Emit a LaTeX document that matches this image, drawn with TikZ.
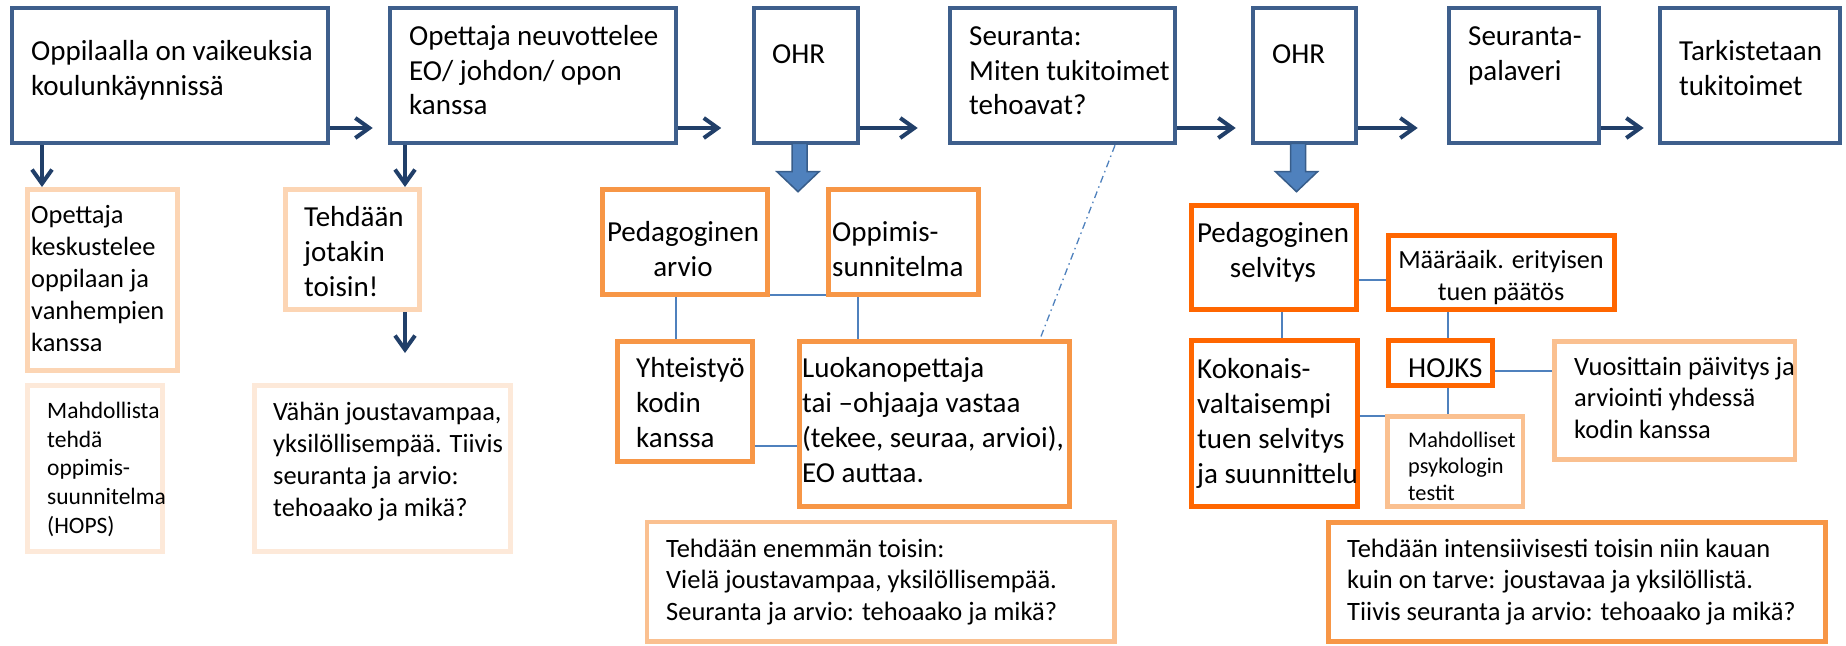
\documentclass[tikz,border=0pt]{standalone}
\usepackage{fontspec}
\setmainfont{Carlito}
\usetikzlibrary{arrows.meta}
\definecolor{topb}{HTML}{3E5F8C}
\definecolor{navy}{HTML}{213F69}
\definecolor{acc}{HTML}{4F81BD}
\definecolor{accd}{HTML}{385D8A}
\definecolor{orA}{HTML}{F79646}
\definecolor{orB}{HTML}{FF6600}
\definecolor{orC}{HTML}{FAC090}
\definecolor{peach}{HTML}{FCD5B4}
\definecolor{peachL}{HTML}{FDE9D9}
\newcommand\Lines[1]{\vtop{\halign{##\hfil\cr#1\crcr}}}
\newcommand\CLines[1]{\vtop{\halign{\hfil##\hfil\cr#1\crcr}}}
\newcommand\BoxAt[6]{\node[#1,minimum width={(#5)-(#3)},minimum height={(#6)-(#4)}] (#2) at ({((#3)+(#5))/2},{((#4)+(#6))/2}) {};}
\newcommand\fA{\fontsize{29}{35}\selectfont}
\newcommand\fB{\fontsize{26.4}{32.1}\selectfont}
\newcommand\fC{\fontsize{23.5}{28.75}\selectfont}
\newcommand\fD{\fontsize{22.3}{26.5}\selectfont}
\newcommand\fE{\fontsize{26.5}{31.5}\selectfont}
\tikzset{
  bx/.style={rectangle,inner sep=0pt,fill=white},
  topbox/.style={bx,draw=topb,line width=4.6pt},
  obox/.style={bx,draw=orA,line width=5pt},
  rbox/.style={bx,draw=orB,line width=5pt},
  lbox/.style={bx,draw=orC,line width=4.8pt},
  pbox/.style={bx,draw=peach,line width=5pt},
  ppbox/.style={bx,draw=peachL,line width=5pt},
  txt/.style={inner sep=0pt,anchor=base west},
  ctxt/.style={inner sep=0pt,anchor=base},
  arr/.style={draw=navy,line width=4pt,-{Straight Barb[length=14pt,width=20pt]}},
  conn/.style={draw=acc,line width=1.6pt},
  fat/.style={fill=acc,draw=accd,line width=1.5pt,line join=miter}
}
\begin{document}
\begin{tikzpicture}[x=1pt,y=-1pt]
\useasboundingbox (0,0) rectangle (1846,645);
% top row
\BoxAt{topbox}{b1}{12}{8}{328}{143}
\BoxAt{topbox}{b2}{390}{8}{676}{143}
\BoxAt{topbox}{o1}{754}{8}{858}{143}
\BoxAt{topbox}{seur}{950}{8}{1175}{143}
\BoxAt{topbox}{o2}{1253}{8}{1356}{143}
\BoxAt{topbox}{sp}{1449}{8}{1599}{143}
\BoxAt{topbox}{tark}{1660}{8}{1840}{143}
% lower left
\BoxAt{pbox}{ok}{27.5}{189.5}{177.5}{370.5}
\BoxAt{ppbox}{m1}{27}{385.5}{162.5}{551.5}
\BoxAt{pbox}{tj}{285}{189.5}{419.5}{309.5}
\BoxAt{ppbox}{vj}{254}{385.5}{510}{551.5}
% middle group
\BoxAt{obox}{pa}{602.5}{189.5}{767.5}{294.5}
\BoxAt{obox}{os}{828.5}{189.5}{978.5}{294.5}
\BoxAt{obox}{yk}{617.5}{341.5}{752}{461.5}
\BoxAt{obox}{lo}{799}{341.5}{1069.5}{506.5}
\BoxAt{lbox}{te}{647}{522}{1114.5}{641.5}
% right group
\BoxAt{rbox}{ps}{1191.5}{205}{1356.5}{309.5}
\BoxAt{rbox}{ma}{1388}{235}{1614}{309.5}
\BoxAt{rbox}{ko}{1191.5}{340.5}{1357}{506.5}
\BoxAt{rbox}{ho}{1388}{340.5}{1492.5}{385}
\BoxAt{lbox}{mp}{1387.5}{416.5}{1523}{506.5}
\BoxAt{lbox}{vu}{1554.5}{341.5}{1795}{459.5}
\BoxAt{obox}{ti}{1328}{522.5}{1825.5}{641.5}
% texts
\node[txt,font=\fA] (t1) at (31,60) {\Lines{Oppilaalla on vaikeuksia\cr koulunkäynnissä}};
\node[txt,font=\fA] (t2) at (409,45) {\Lines{Opettaja neuvottelee\cr EO/ johdon/ opon\cr kanssa}};
\node[txt,font=\fA] (t3) at (772,63) {OHR};
\node[txt,font=\fA] (t4) at (969,45) {\Lines{Seuranta:\cr Miten tukitoimet\cr tehoavat?}};
\node[txt,font=\fA] (t5) at (1272,63) {OHR};
\node[txt,font=\fA] (t6) at (1468,45) {\Lines{Seuranta-\cr palaveri}};
\node[txt,font=\fA] (t7) at (1679,60) {\Lines{Tarkistetaan\cr tukitoimet}};
\node[txt,font=\fB] (t8) at (31,223.3) {\Lines{Opettaja\cr keskustelee\cr oppilaan ja\cr vanhempien\cr kanssa}};
\node[txt,font=\fC] (t9) at (47,418.3) {\Lines{Mahdollista\cr tehdä\cr oppimis-\cr suunnitelma\cr (HOPS)}};
\node[txt,font=\fA] (t10) at (304,226.7) {\Lines{Tehdään\cr jotakin\cr toisin!}};
\node[txt,font=\fB] (t11) at (273,420) {\Lines{Vähän joustavampaa,\cr yksilöllisempää. Tiivis\cr seuranta ja arvio:\cr tehoaako ja mikä?}};
\node[ctxt,font=\fontsize{29}{34.5}\selectfont] (t12) at (683,241.7) {\CLines{Pedagoginen\cr arvio}};
\node[txt,font=\fontsize{29}{34.5}\selectfont] (t13) at (832,241.7) {\Lines{Oppimis-\cr sunnitelma}};
\node[txt,font=\fA] (t14) at (636,377) {\Lines{Yhteistyö\cr kodin\cr kanssa}};
\node[txt,font=\fontsize{29}{35.3}\selectfont] (t15) at (802,377) {\Lines{Luokanopettaja\cr tai –ohjaaja vastaa\cr (tekee, seuraa, arvioi),\cr EO auttaa.}};
\node[txt,font=\fE] (t16) at (666,557) {\Lines{Tehdään enemmän toisin:\cr Vielä joustavampaa, yksilöllisempää.\cr Seuranta ja arvio: tehoaako ja mikä?}};
\node[ctxt,font=\fA] (t17) at (1273,242) {\CLines{Pedagoginen\cr selvitys}};
\node[ctxt,font=\fontsize{26.2}{32}\selectfont] (t18) at (1501,268) {\CLines{Määräaik. erityisen\cr tuen päätös}};
\node[txt,font=\fA] (t19) at (1197,378) {\Lines{Kokonais-\cr valtaisempi\cr tuen selvitys\cr ja suunnittelu}};
\node[txt,font=\fA] (t20) at (1408,377) {HOJKS};
\node[txt,font=\fD] (t21) at (1408,447) {\Lines{Mahdolliset\cr psykologin\cr testit}};
\node[txt,font=\fE] (t22) at (1574,375) {\Lines{Vuosittain päivitys ja\cr arviointi yhdessä\cr kodin kanssa}};
\node[txt,font=\fE] (t23) at (1347,557) {\Lines{Tehdään intensiivisesti toisin niin kauan\cr kuin on tarve: joustavaa ja yksilöllistä.\cr Tiivis seuranta ja arvio: tehoaako ja mikä?}};
% horizontal arrows
\draw[arr,shorten >=15pt] ([yshift=-52.5pt]b1.east) -- ([yshift=-52.5pt]b2.west);
\draw[arr,shorten >=30.5pt] ([yshift=-52.5pt]b2.east) -- ([yshift=-52.5pt]o1.west);
\draw[arr,shorten >=30pt] ([yshift=-52.5pt]o1.east) -- ([yshift=-52.5pt]seur.west);
\draw[arr,shorten >=15pt] ([yshift=-52.5pt]seur.east) -- ([yshift=-52.5pt]o2.west);
\draw[arr,shorten >=29pt] ([yshift=-52.5pt]o2.east) -- ([yshift=-52.5pt]sp.west);
\draw[arr,shorten >=14pt] ([yshift=-52.5pt]sp.east) -- ([yshift=-52.5pt]tark.west);
% down arrows
\draw[arr] (b1.south -| 42,0) -- (ok.north -| 42,0);
\draw[arr] (b2.south -| 405,0) -- (tj.north -| 405,0);
\draw[arr,shorten >=30pt] (tj.south -| 405,0) -- (vj.north -| 405,0);
% fat arrows
\draw[fat,shift={(o1.south)}] (-14,-2) -- (-14,26.4) -- (-29,26.4) -- (-8,46.4) -- (13,26.4) -- (1,26.4) -- (1,-2) -- cycle;
\draw[fat,shift={(o2.south)}] (-14,-2) -- (-14,26.4) -- (-29,26.4) -- (-8,46.4) -- (13,26.4) -- (1,26.4) -- (1,-2) -- cycle;
% connectors middle
\draw[conn] (pa.east |- 0,295) -- (os.west |- 0,295);
\draw[conn] (pa.south -| 676,0) -- (yk.north -| 676,0);
\draw[conn] (os.south -| 858,0) -- (lo.north -| 858,0);
\draw[conn] (yk.east |- 0,446) -- (lo.west |- 0,446);
\draw[draw=acc,line width=1.3pt,dash pattern=on 7pt off 4pt on 1.5pt off 4pt] (seur.south -| 1115,0) -- (lo.north -| 1040,0);
% connectors right
\draw[conn] (ps.east |- 0,280) -- (ma.west |- 0,280);
\draw[conn] (ps.south -| 1282,0) -- (ko.north -| 1282,0);
\draw[conn] (ma.south -| 1448,0) -- (ho.north -| 1448,0);
\draw[conn] (ho.east |- 0,371) -- (vu.west |- 0,371);
\draw[conn] (ho.south -| 1448,0) -- (mp.north -| 1448,0);
\draw[conn] (ko.east |- 0,416) -- (mp.west |- 0,416);
\end{tikzpicture}
\end{document}
